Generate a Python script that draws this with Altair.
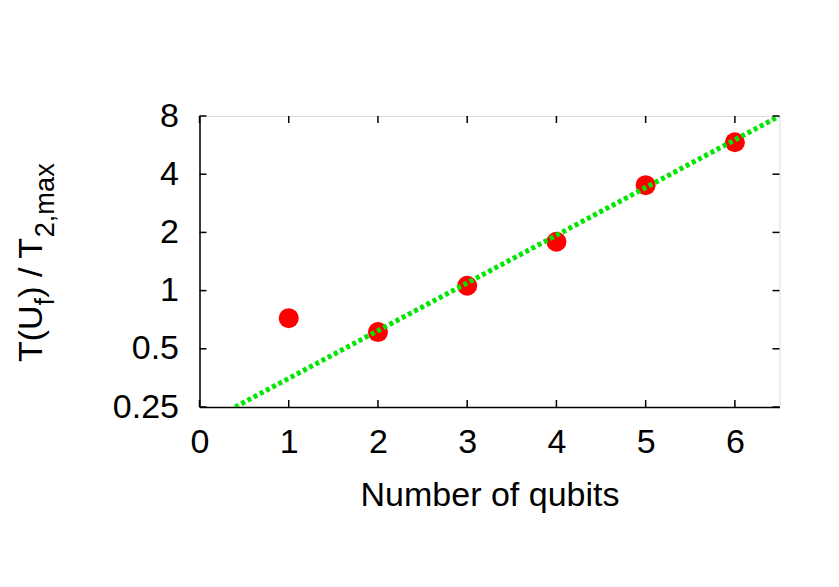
import altair as alt
import pandas as pd

# data
qubits = [1, 2, 3, 4, 5, 6]
ratio = [0.72, 0.61, 1.06, 1.79, 3.51, 5.85]
fit_x = [0.4, 6.5]
fit_y = [0.25, 8.0]
x_ticks = [0, 1, 2, 3, 4, 5, 6]
y_ticks = [0.25, 0.5, 1, 2, 4, 8]

W, H = 580, 291
FONT = "Liberation Sans"
FS = 34
SUB = 27.2

pts = pd.DataFrame({"x": qubits, "y": ratio})
fit = pd.DataFrame({"x": fit_x, "y": fit_y})
xt = pd.DataFrame({"x": x_ticks})
yt = pd.DataFrame({"y": y_ticks})

xscale = alt.Scale(domain=[0, 6.5], nice=False, zero=False)
yscale = alt.Scale(type="log", base=2, domain=[0.25, 8], nice=False)

xaxis = alt.Axis(values=x_ticks, format="d", tickSize=0, grid=False, domainColor="black",
                 domainWidth=1.5, labelFont=FONT, labelFontSize=FS, labelColor="black",
                 labelPadding=18, title="Number of qubits", titleFont=FONT,
                 titleFontSize=FS, titleFontWeight="normal", titleColor="black",
                 titleBaseline="alphabetic", titleY=98, labelFlush=False)
yaxis = alt.Axis(values=y_ticks, tickSize=0, grid=False, domainColor="black",
                 domainWidth=1.5, labelFont=FONT, labelFontSize=FS, labelColor="black",
                 labelPadding=21, format="~g", title="", labelFlush=False)

base_x = alt.X("x:Q", scale=xscale, axis=xaxis)
base_y = alt.Y("y:Q", scale=yscale, axis=yaxis)

points = alt.Chart(pts).mark_circle(color="#ff0000", opacity=1, size=400).encode(
    x=base_x, y=base_y)

line = alt.Chart(fit).mark_line(color="#00e600", strokeWidth=5, strokeDash=[4, 3],
                                clip=True).encode(
    x=alt.X("x:Q", scale=xscale), y=alt.Y("y:Q", scale=yscale))

tick_len = 7
xt_bot = alt.Chart(xt).mark_rule(color="black", strokeWidth=1.5).encode(
    x=alt.X("x:Q", scale=xscale), y=alt.value(H), y2=alt.value(H - tick_len))
xt_top = alt.Chart(xt).mark_rule(color="black", strokeWidth=1.5).encode(
    x=alt.X("x:Q", scale=xscale), y=alt.value(0), y2=alt.value(tick_len))
yt_left = alt.Chart(yt).mark_rule(color="black", strokeWidth=1.5).encode(
    y=alt.Y("y:Q", scale=yscale), x=alt.value(0), x2=alt.value(tick_len))
yt_right = alt.Chart(yt).mark_rule(color="black", strokeWidth=1.5).encode(
    y=alt.Y("y:Q", scale=yscale), x=alt.value(W), x2=alt.value(W - tick_len))

# y title with subscripts, built from pieces
pieces = [("T(U", FS, -157.5, 246), ("f", SUB, -146, 189.4),
          (") / T", FS, -157.5, 181.8), ("2,max", SUB, -146, 121.3)]
title_layers = []
for txt, fs, px, py in pieces:
    title_layers.append(
        alt.Chart(pd.DataFrame({"t": [txt]})).mark_text(
            font=FONT, fontSize=fs, color="black", angle=270, align="left",
            baseline="alphabetic").encode(
            text="t:N", x=alt.value(px), y=alt.value(py)))

chart = alt.layer(points, line, xt_bot, xt_top, yt_left, yt_right, *title_layers).properties(
    width=W, height=H,
    autosize=alt.AutoSizeParams(type="none"),
    padding={"left": 191.5, "top": 108, "right": 40, "bottom": 150},
).configure_view(stroke="black", strokeWidth=1.5).configure(background="white")

chart.save("out.html", embed_options={"renderer": "svg", "actions": False})
